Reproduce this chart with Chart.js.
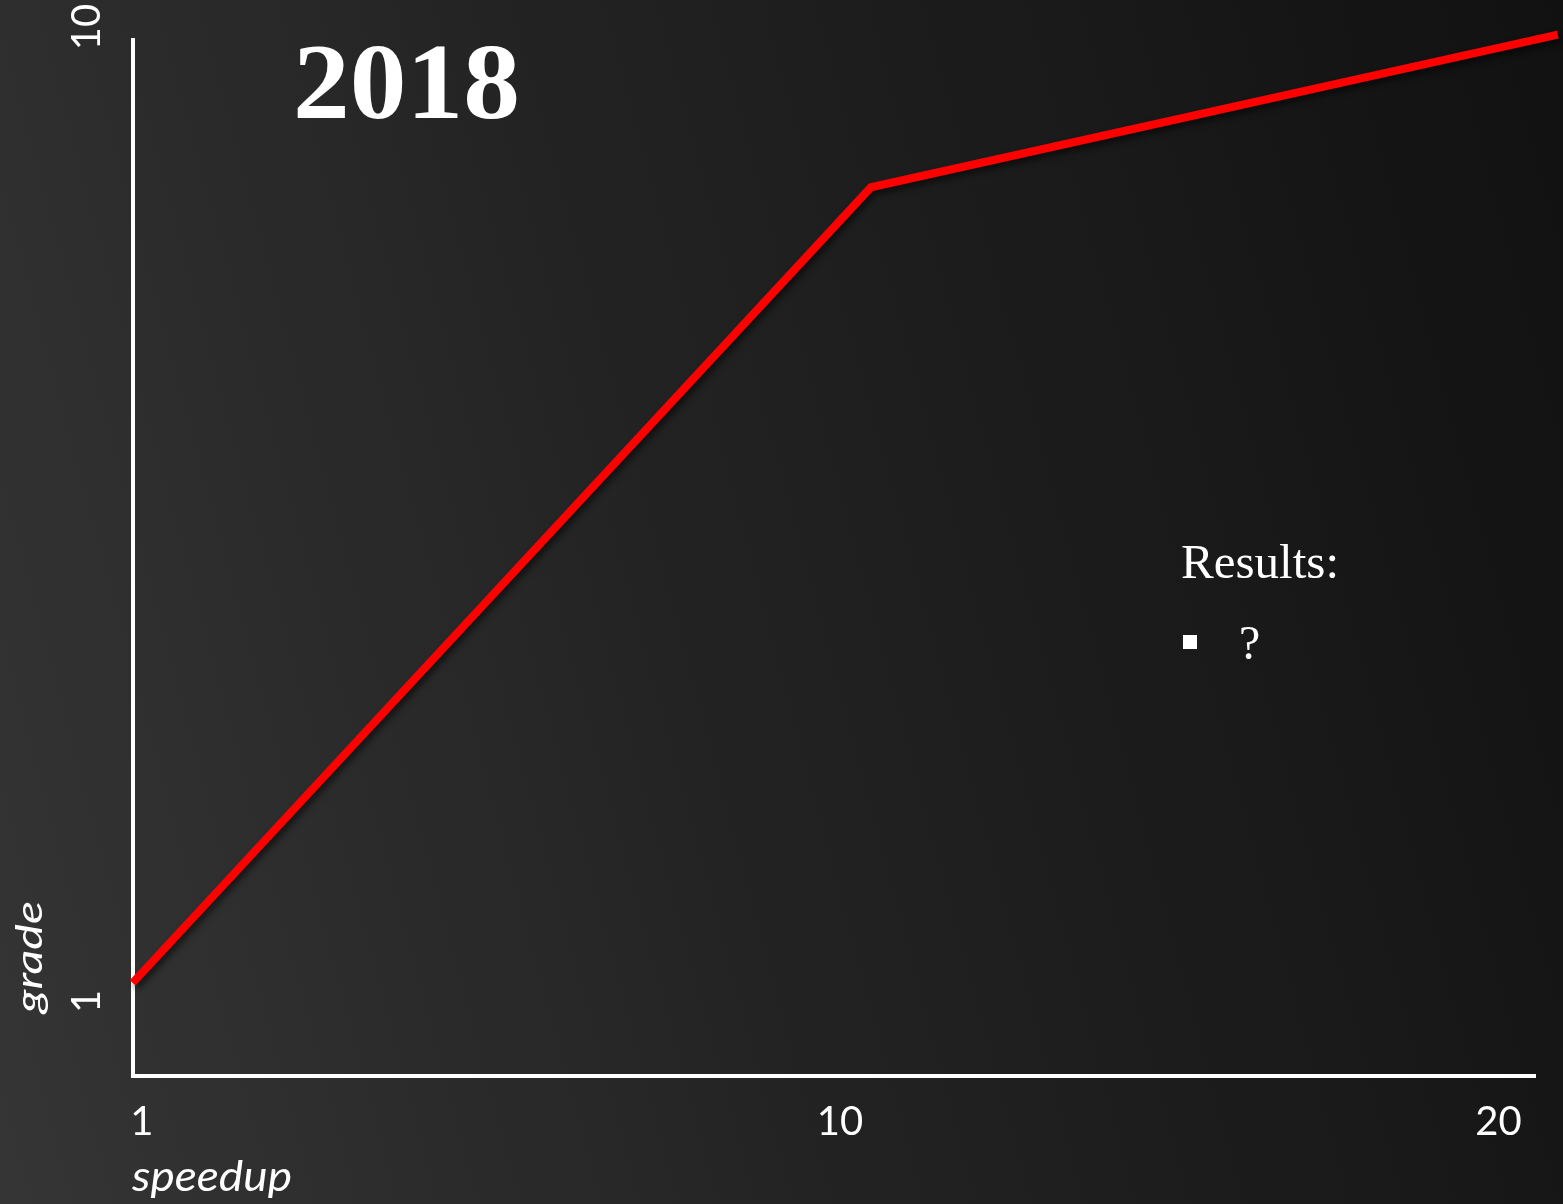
<!DOCTYPE html>
<html>
<head>
<meta charset="utf-8">
<title>grade vs speedup</title>
<script src="https://cdn.jsdelivr.net/npm/chart.js@4.4.1/dist/chart.umd.min.js"></script>
<style>
  html, body { margin: 0; padding: 0; }
  body {
    width: 1563px;
    height: 1204px;
    overflow: hidden;
    background: linear-gradient(75deg, #353535 0%, #282828 32%, #222222 46%, #191919 75%, #111111 100%);
  }
  #wrap { position: relative; width: 1563px; height: 1204px; }
</style>
</head>
<body>
<div id="wrap"><canvas id="myChart"></canvas></div>
<script>
// the curve: speedup on x, grade on y
const speedup = [0.88, 10.47, 20.9];
const grade = [1.17, 8.52, 9.93];

// axis labels
const xTicks = [1, 10, 20];
const yTicks = [1, 10];
const xTitle = "speedup";
const yTitle = "grade";

// text boxes on the slide
const yearLabel = "2018";
const notesTitle = "Results:";
const notesItems = ["?"];

const ctx = document.getElementById("myChart").getContext("2d");

// linear scale that bends at the tick stops, so 1-10 and 10-20 can have their own widths
class StopScale extends Chart.LinearScale {
  getPixelForValue(value) {
    const stops = this.options.stops;
    const spots = this.options.spots;
    let i = 0;
    while (i < stops.length - 2 && value > stops[i + 1]) i++;
    const t = (value - stops[i]) / (stops[i + 1] - stops[i]);
    const f = spots[i] + t * (spots[i + 1] - spots[i]);
    return this.left + f * this.width;
  }
}
StopScale.id = "stops";
Chart.register(StopScale);

// write text, squeezing or stretching it to a given width when asked
const putText = (c, text, x, y, font, width, align) => {
  c.save();
  c.font = font;
  c.textAlign = align || "left";
  c.textBaseline = "alphabetic";
  c.translate(x, y);
  if (width) {
    c.scale(width / c.measureText(text).width, 1);
  }
  c.fillText(text, 0, 0);
  c.restore();
};

// soft shadow under the red line
const lineShadow = {
  id: "lineShadow",
  beforeDatasetsDraw(chart) {
    const c = chart.ctx;
    c.save();
    c.shadowColor = "rgba(0, 0, 0, 0.55)";
    c.shadowBlur = 6;
    c.shadowOffsetX = 3;
    c.shadowOffsetY = 4;
  },
  afterDatasetsDraw(chart) {
    chart.ctx.restore();
  },
};

// tick labels, axis titles and the two text boxes
const slideText = {
  id: "slideText",
  afterDraw(chart) {
    const c = chart.ctx;
    const xs = chart.scales.x;
    const ys = chart.scales.y;
    c.save();
    c.fillStyle = "#ffffff";

    xTicks.forEach((v) => {
      putText(c, String(v), xs.getPixelForValue(v), 1135, "40px Lato", 0, "center");
    });

    yTicks.forEach((v) => {
      c.save();
      c.translate(100, ys.getPixelForValue(v));
      c.rotate(-Math.PI / 2);
      putText(c, String(v), 0, 0, "40px Lato", 0, "center");
      c.restore();
    });

    putText(c, xTitle, 132, 1191, "italic 42px Lato", 160);

    c.save();
    c.translate(42, 957);
    c.rotate(-Math.PI / 2);
    putText(c, yTitle, 0, 0, "italic 36px Lato", 112, "center");
    c.restore();

    putText(c, yearLabel, 293, 118, "bold 108px 'Liberation Serif'", 227);

    putText(c, notesTitle, 1181, 578, "48px 'Liberation Serif'", 158);
    notesItems.forEach((item, i) => {
      c.fillRect(1183, 635 + i * 80, 14, 14);
      putText(c, item, 1239, 659 + i * 80, "48px 'Liberation Serif'");
    });

    c.restore();
  },
};

const myChart = new Chart(ctx, {
  type: "line",
  data: {
    datasets: [
      {
        data: speedup.map((s, i) => ({ x: s, y: grade[i] })),
        borderColor: "#ff0000",
        borderWidth: 8,
        borderJoinStyle: "miter",
        borderCapStyle: "butt",
        pointRadius: 0,
        tension: 0,
        fill: false,
        clip: false,
      },
    ],
  },
  options: {
    responsive: true,
    maintainAspectRatio: false,
    animation: false,
    events: [],
    layout: {
      padding: { left: 133, top: 40, right: 28, bottom: 128 },
    },
    plugins: {
      legend: { display: false },
      title: { display: false },
      tooltip: { enabled: false },
    },
    scales: {
      x: {
        type: "stops",
        min: 0.88,
        max: 20.5,
        stops: xTicks,
        spots: [0.0064, 0.5043, 0.974],
        grid: { display: false, drawTicks: false },
        border: { display: true, color: "#ffffff", width: 4 },
        ticks: { display: false },
      },
      y: {
        type: "linear",
        min: 0.31,
        max: 9.88,
        grid: { display: false, drawTicks: false },
        border: { display: true, color: "#ffffff", width: 4 },
        ticks: { display: false },
      },
    },
  },
  plugins: [lineShadow, slideText],
});
</script>
</body>
</html>
